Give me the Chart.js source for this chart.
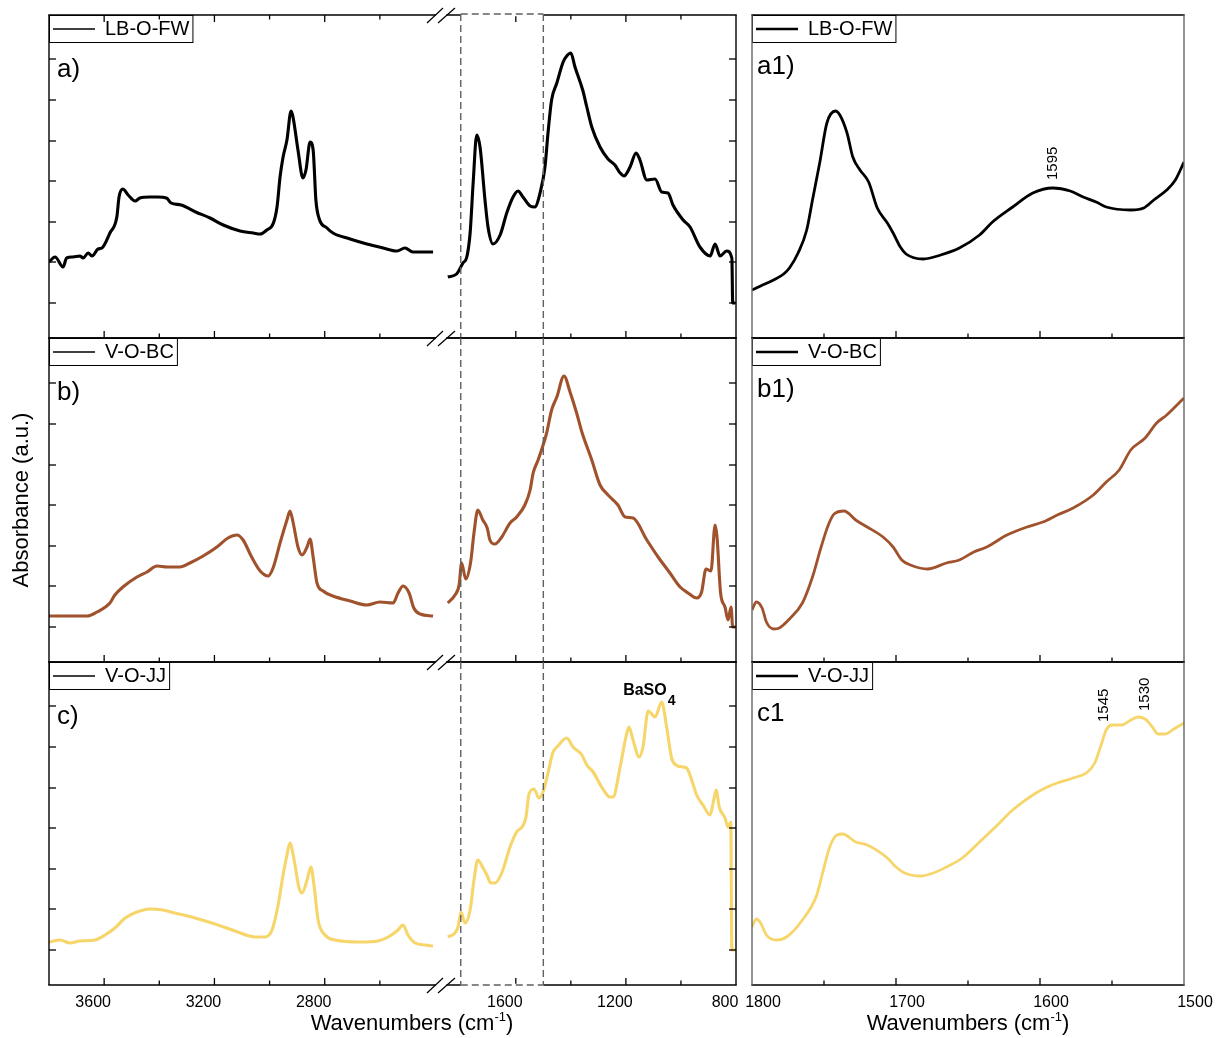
<!DOCTYPE html>
<html><head><meta charset="utf-8">
<script src="https://cdn.jsdelivr.net/npm/chart.js@4.4.1/dist/chart.umd.min.js"></script>
<style>
html,body{margin:0;padding:0;background:#fff;}
#page{position:relative;width:1222px;height:1038px;overflow:hidden;background:#fff;}
canvas{position:absolute;}
</style></head><body><div id="page"></div>
<script>
// ---------- DATA (wavenumbers in cm-1, absorbance in arbitrary units) ----------
const seriesNames  = ['LB-O-FW', 'V-O-BC', 'V-O-JJ'];
const seriesColors = ['#000000', '#A0522D', '#F6D56B'];

// Panel a (LB-O-FW)
const aHighX = [3800,3778,3749,3736,3713,3688,3676,3658,3644,3622,3608,3579,3554,3546,3532,3513,3488,3470,3434,3405,3374,3357,3321,3268,3216,3168,3107,3059,3034,3010,2986,2973,2962,2951,2937,2922,2915,2897,2879,2868,2853,2842,2832,2821,2792,2770,2708,2647,2588,2538,2509,2480,2407];
const aHighY = [76,81,71,80,81,82,80,85,82,89,90,105,121,141,149,143,137,140,141,141,140,135,133,126,120,113,107,105,104,108,115,131,161,181,198,227,221,188,160,168,196,188,138,120,110,105,99,94,90,87,90,86,86];
const aLowX  = [1847,1815,1792,1778,1766,1755,1742,1730,1712,1701,1683,1657,1633,1610,1592,1574,1548,1531,1512,1494,1483,1470,1451,1428,1415,1400,1385,1357,1342,1324,1294,1265,1240,1221,1207,1185,1163,1149,1124,1094,1070,1047,1029,992,967,931,894,876,858,834,815,812,803];
const aLowY  = [61,64,75,81,105,155,203,191,138,111,94,103,125,141,147,141,132,131,145,171,205,238,255,276,282,285,271,248,231,211,191,179,173,165,162,171,185,178,158,159,146,145,133,118,111,91,82,94,82,87,80,35,35];
const a1X    = [1800,1794,1785,1778,1774,1768,1762,1758,1753,1748,1742,1739,1734,1730,1725,1719,1713,1706,1702,1697,1693,1681,1669,1656,1642,1633,1619,1605,1591,1579,1570,1561,1554,1537,1528,1521,1512,1506,1500];
const a1Y    = [48,52,58,64,70,85,108,138,175,215,227,223,205,181,168,156,130,115,105,91,84,79,83,90,103,116,131,145,150,147,141,136,131,128,130,138,148,158,176];

// Panel b (V-O-BC)
const bHighX = [3800,3735,3662,3626,3579,3561,3532,3481,3445,3408,3372,3325,3289,3241,3191,3151,3118,3096,3065,3034,3005,2986,2962,2937,2926,2915,2897,2882,2864,2853,2842,2828,2806,2770,2708,2647,2600,2552,2534,2516,2494,2477,2454,2407];
const bHighY = [46,46,46,50,59,67,75,85,90,96,95,95,99,106,115,124,127,122,105,91,86,95,119,142,151,140,115,107,115,123,105,79,71,66,61,57,60,59,69,76,69,54,48,46];
const bLowX  = [1847,1821,1806,1797,1782,1764,1752,1738,1720,1704,1694,1676,1651,1621,1597,1567,1548,1537,1519,1488,1470,1451,1425,1403,1379,1360,1324,1294,1265,1229,1203,1174,1124,1083,1040,1003,974,943,925,909,891,876,869,856,840,829,818,812,803];
const bLowY  = [59,67,77,99,83,100,129,152,142,134,122,118,125,139,145,157,172,189,202,229,252,265,286,270,249,230,202,177,167,157,145,144,122,105,89,75,69,64,70,93,91,137,125,69,55,42,55,35,35];
const b1X    = [1800,1797,1793,1790,1785,1781,1774,1765,1758,1752,1747,1743,1736,1728,1720,1709,1702,1696,1690,1678,1665,1656,1646,1637,1623,1609,1598,1588,1577,1563,1554,1545,1537,1527,1519,1512,1500];
const b1Y    = [52,60,54,40,33,34,43,59,85,115,137,148,151,142,135,125,115,102,97,93,99,102,110,115,127,135,140,147,154,167,180,192,212,224,239,247,264];

// Panel c (V-O-JJ)
const cHighX = [3800,3760,3724,3688,3633,3597,3561,3524,3481,3434,3387,3343,3270,3198,3125,3053,3017,2991,2969,2951,2937,2926,2911,2893,2882,2864,2850,2839,2824,2799,2763,2672,2607,2570,2534,2516,2498,2472,2436,2407];
const cHighY = [43,45,42,44,45,50,57,67,73,76,75,72,67,61,54,48,48,55,80,110,130,142,125,97,92,105,118,100,65,50,45,43,44,48,55,60,50,42,40,39];
const cLowX  = [1847,1821,1810,1799,1785,1766,1752,1738,1719,1705,1691,1676,1651,1621,1597,1575,1563,1552,1534,1516,1501,1483,1466,1447,1415,1392,1360,1342,1319,1288,1258,1247,1221,1200,1189,1174,1152,1138,1119,1094,1070,1052,1034,1018,992,979,961,943,920,894,883,872,861,840,829,819,815,803];
const cLowY  = [48,52,58,73,62,75,105,125,117,110,102,102,112,138,153,159,168,191,196,187,193,212,232,239,247,238,230,220,213,198,188,188,218,248,258,245,228,238,274,268,283,258,227,220,218,217,205,190,180,170,182,195,178,167,158,163,35,35];
const c1X    = [1800,1797,1794,1790,1783,1776,1765,1755,1751,1746,1741,1737,1728,1720,1706,1700,1694,1683,1674,1665,1654,1642,1631,1619,1605,1595,1588,1577,1567,1562,1558,1554,1550,1543,1538,1532,1527,1522,1518,1513,1507,1500];
const c1Y    = [58,66,62,50,45,48,65,90,112,138,150,151,143,140,127,118,112,109,112,118,127,143,158,175,190,198,202,207,213,222,238,255,260,260,264,268,266,258,251,251,256,262];

// Ticks
const yTickValues  = [35,76,116,157,197,238,279];
const xTicksHigh   = [3600,3400,3200,3000,2800,2600];
const xTicksLow    = [1600,1400,1200,1000];
const xTicksZoom   = [1750,1700,1650,1600,1550];
const xLabelsHigh  = [3600,3200,2800];
const xLabelsLow   = [1600,1200,800];
const xLabelsZoom  = [1800,1700,1600,1500];
const zoomRange    = [1800,1500];
const panelLabels  = [['a)','a1)'],['b)','b1)'],['c)','c1']];

// ---------- LAYOUT ----------
const FONT = '"Liberation Sans", Arial, sans-serif';
Chart.defaults.font.family = FONT;
Chart.defaults.color = '#000';
const page = document.getElementById('page');

const ROWS = [{top:15,bottom:338,yMax:323},{top:338,bottom:662,yMax:324},{top:662,bottom:985,yMax:323}];
const COLS = {
  high:{left:49,right:435,min:2400,max:3800,labels:xLabelsHigh,ticks:xTicksHigh,labelOffset:-11},
  low:{left:447,right:736,min:800,max:1850,labels:xLabelsLow,ticks:xTicksLow,labelOffset:-11},
  zoom:{left:752,right:1184,min:1500,max:1800,labels:xLabelsZoom,ticks:xTicksZoom,labelOffset:11}
};

function seg(ctx,x1,y1,x2,y2){ctx.beginPath();ctx.moveTo(x1,y1);ctx.lineTo(x2,y2);ctx.stroke();}

function drawXTitle(ctx, cx, base){
  const main='Wavenumbers (cm', sup='-1', tail=')';
  ctx.fillStyle='#000'; ctx.textBaseline='alphabetic'; ctx.textAlign='left';
  ctx.font='22px '+FONT; const wm=ctx.measureText(main).width, wt=ctx.measureText(tail).width;
  ctx.font='13px '+FONT; const ws=ctx.measureText(sup).width;
  let x=cx-(wm+ws+wt)/2;
  ctx.font='22px '+FONT; ctx.fillText(main,x,base);
  ctx.font='13px '+FONT; ctx.fillText(sup,x+wm,base-9);
  ctx.font='22px '+FONT; ctx.fillText(tail,x+wm+ws,base);
}

function makeDecor(cfg){
  return {
    id:'decor',
    afterLayout(chart){
      // pin the in-plot legend to the top-left corner of the plot area
      const lg=chart.legend, ca=chart.chartArea;
      if(lg && lg.options && lg.options.display){
        const h=lg.height;
        lg.top=ca.top; lg.bottom=ca.top+h;
        lg.left=ca.left;
      }
    },
    afterDraw(chart){
      const ctx=chart.ctx, ca=chart.chartArea, xs=chart.scales.x, ys=chart.scales.y;
      ctx.save();
      // legend frame
      const lg=chart.legend;
      if(lg && lg.options.display && lg.legendHitBoxes && lg.legendHitBoxes.length){
        const hb=lg.legendHitBoxes[0];
        ctx.strokeStyle='#000'; ctx.lineWidth=1;
        ctx.strokeRect(ca.left+0.5, ca.top+0.5, hb.left+hb.width+3-ca.left, hb.top+hb.height+3-ca.top);
      }
      // frame
      ctx.strokeStyle='#000'; ctx.lineWidth=1.4;
      seg(ctx,ca.left-0.7,ca.top,ca.right+0.7,ca.top);
      seg(ctx,ca.left-0.7,ca.bottom,ca.right+0.7,ca.bottom);
      ctx.strokeStyle=cfg.sideColor;
      if(cfg.borderLeft) seg(ctx,ca.left,ca.top,ca.left,ca.bottom);
      if(cfg.borderRight) seg(ctx,ca.right,ca.top,ca.right,ca.bottom);
      // inward ticks
      ctx.strokeStyle='#000'; ctx.lineWidth=1.3;
      cfg.xTicks.forEach(v=>{
        const px=xs.getPixelForValue(v);
        const len=cfg.xMajor.includes(v)?7:4.5;
        if(cfg.tickTop) seg(ctx,px,ca.top,px,ca.top+len);
        seg(ctx,px,ca.bottom,px,ca.bottom-len);
      });
      cfg.yTicks.forEach(v=>{
        const py=ys.getPixelForValue(v);
        if(cfg.tickLeft) seg(ctx,ca.left,py,ca.left+7,py);
        if(cfg.tickRight) seg(ctx,ca.right,py,ca.right-7,py);
      });
      // axis breaks and zoom window
      if(cfg.breaks){
        ctx.strokeStyle='#000'; ctx.lineWidth=1.2;
        const x0=ca.left;
        const ysB=[ca.top]; if(cfg.row===2) ysB.push(ca.bottom);
        ysB.forEach(y=>{
          seg(ctx,x0-20,y+8,x0-4,y-7);
          seg(ctx,x0-9,y+8,x0+8,y-7);
        });
        const xa=xs.getPixelForValue(zoomRange[0]), xb=xs.getPixelForValue(zoomRange[1]);
        if(cfg.row===0){ ctx.strokeStyle='#fff'; ctx.lineWidth=2.4; seg(ctx,xa,ca.top,xb,ca.top); }
        if(cfg.row===2){ ctx.strokeStyle='#fff'; ctx.lineWidth=2.4; seg(ctx,xa,ca.bottom,xb,ca.bottom); }
        ctx.strokeStyle='#606060'; ctx.lineWidth=1.4; ctx.setLineDash([7,4]);
        const t=cfg.row===0?ca.top-1:ca.top;
        seg(ctx,xa,t,xa,ca.bottom); seg(ctx,xb,t,xb,ca.bottom);
        if(cfg.row===0) seg(ctx,xa,ca.top-1,xb,ca.top-1);
        if(cfg.row===2) seg(ctx,xa,ca.bottom,xb,ca.bottom);
        ctx.setLineDash([]);
      }
      // panel label
      ctx.fillStyle='#000'; ctx.textAlign='left'; ctx.textBaseline='alphabetic';
      ctx.font='26px '+FONT;
      ctx.fillText(cfg.label, ca.left+cfg.labelDx, ca.top+cfg.labelDy);
      // peak annotations (data coordinates)
      (cfg.notes||[]).forEach(n=>{
        const px=xs.getPixelForValue(n.x), py=ys.getPixelForValue(n.y);
        if(n.rot){
          ctx.save(); ctx.translate(px,py); ctx.rotate(-Math.PI/2);
          ctx.font='15px '+FONT; ctx.textBaseline='middle'; ctx.textAlign='left';
          ctx.fillText(n.text,0,0); ctx.restore();
        } else {
          ctx.font='bold 16px '+FONT; ctx.textBaseline='alphabetic'; ctx.textAlign='left';
          ctx.fillText(n.text,px,py);
          const w=ctx.measureText(n.text).width;
          ctx.font='bold 14px '+FONT; ctx.fillText(n.sub,px+w+1,py+10);
        }
      });
      // x axis title
      if(cfg.xTitle) drawXTitle(ctx, cfg.xTitle[0]-cfg.offX, cfg.xTitle[1]-cfg.offY);
      ctx.restore();
    }
  };
}

function makePanel(row, colKey, xArr, yArr, notes){
  const R=ROWS[row], C=COLS[colKey];
  const isBottom=row===2;
  const withYTitle=(colKey==='high' && row===1);
  const padT=10, padB=isBottom?3:10;
  const padL=colKey==='low'?30:14;
  const padR=colKey==='zoom'?36:(colKey==='high'&&isBottom?110:20);
  const axisH=isBottom?50:0;
  const cLeft=withYTitle?0:C.left-padL;
  const cTop=R.top-padT;
  const width=C.right+padR-cLeft;
  const height=(R.bottom-R.top)+padT+axisH+padB;
  const canvas=document.createElement('canvas');
  canvas.width=width; canvas.height=height;
  canvas.style.left=cLeft+'px'; canvas.style.top=cTop+'px';
  canvas.style.width=width+'px'; canvas.style.height=height+'px';
  page.appendChild(canvas);

  let xTitle=null;
  if(isBottom && colKey==='high') xTitle=[412,1030];
  if(isBottom && colKey==='zoom') xTitle=[968,1030];

  const cfg={
    row, sideColor: colKey==='zoom'?'#666':'#000',
    borderLeft: colKey!=='low', borderRight: colKey!=='high',
    xTicks: C.ticks, xMajor: C.labels, tickTop: row===0 && colKey!=='zoom',
    yTicks: colKey==='zoom'?[]:yTickValues, tickLeft: colKey==='high', tickRight: colKey==='low',
    breaks: colKey==='low',
    label: colKey==='low'?'':panelLabels[row][colKey==='zoom'?1:0],
    labelDx: colKey==='zoom'?5:8, labelDy: colKey==='zoom'?59:62,
    notes, xTitle, offX:cLeft, offY:cTop
  };
  const showLegend = colKey!=='low';

  new Chart(canvas,{
    type:'line',
    data:{datasets:[{
      label: seriesNames[row],
      data: xArr.map((x,i)=>({x, y:yArr[i]})),
      borderColor: seriesColors[row],
      borderWidth: colKey==='zoom'?2.8:3.1,
      pointRadius:0, fill:false,
      cubicInterpolationMode:'monotone'
    }]},
    options:{
      responsive:false, animation:false, devicePixelRatio:1, events:[],
      layout:{padding:{left:withYTitle?0:padL,right:padR,top:padT,bottom:padB}, autoPadding:false},
      scales:{
        x:{type:'linear', reverse:true, min:C.min, max:C.max, display:isBottom,
           afterBuildTicks:s=>{ s.ticks=C.labels.map(v=>({value:v})); },
           afterFit:s=>{ s.height=axisH; s.paddingLeft=0; s.paddingRight=0; },
           grid:{display:false, drawTicks:false}, border:{display:false},
           ticks:{autoSkip:false, maxRotation:0, minRotation:0, padding:8, labelOffset:C.labelOffset,
                  color:'#000', font:{family:FONT,size:16}, callback:v=>String(v)}},
        y:{type:'linear', min:0, max:R.yMax, display:withYTitle, position:'left',
           afterBuildTicks:s=>{ s.ticks=yTickValues.map(v=>({value:v})); },
           afterFit:s=>{ s.width=withYTitle?C.left:0; },
           grid:{display:false, drawTicks:false}, border:{display:false}, ticks:{display:false},
           title:{display:withYTitle, text:'Absorbance (a.u.)', color:'#000',
                  font:{family:FONT,size:22}, padding:{top:9,bottom:0}}}
      },
      plugins:{
        tooltip:{enabled:false},
        title:{display:false},
        legend:{display:showLegend, position:'chartArea', align:'start', onClick:null,
          labels:{usePointStyle:true, pointStyleWidth:42, padding:4, color:'#000',
            font:{family:FONT,size:20},
            generateLabels:(ch)=>[{text:ch.data.datasets[0].label, strokeStyle:'#000', fillStyle:'#000',
              lineWidth: colKey==='zoom'?2.5:1.5, pointStyle:'line', hidden:false, datasetIndex:0, fontColor:'#000'}]}}
      }
    },
    plugins:[makeDecor(cfg)]
  });
}

makePanel(0,'high',aHighX,aHighY,[]);
makePanel(0,'low',aLowX,aLowY,[]);
makePanel(0,'zoom',a1X,a1Y,[{text:'1595',x:1591,y:158,rot:true}]);
makePanel(1,'high',bHighX,bHighY,[]);
makePanel(1,'low',bLowX,bLowY,[]);
makePanel(1,'zoom',b1X,b1Y,[]);
makePanel(2,'high',cHighX,cHighY,[]);
makePanel(2,'low',cLowX,cLowY,[{text:'BaSO',sub:'4',x:1210,y:290,rot:false}]);
makePanel(2,'zoom',c1X,c1Y,[{text:'1545',x:1556,y:263,rot:true},{text:'1530',x:1527,y:274,rot:true}]);
</script></body></html>
